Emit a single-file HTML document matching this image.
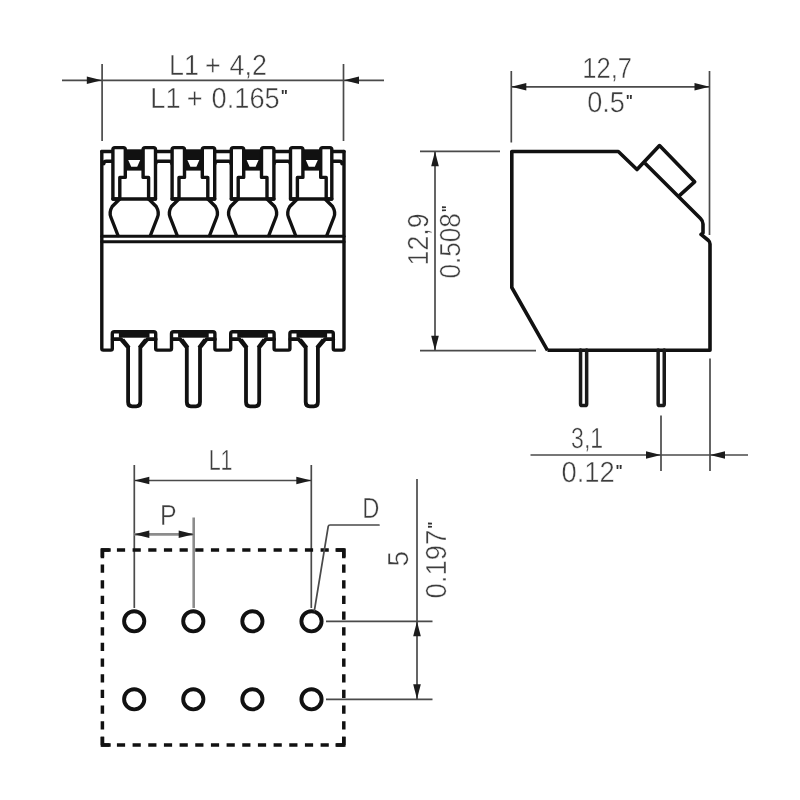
<!DOCTYPE html>
<html><head><meta charset="utf-8"><title>Drawing</title>
<style>
html,body{margin:0;padding:0;background:#fff;}
body{width:800px;height:800px;overflow:hidden;}
svg{display:block;will-change:transform;filter:grayscale(1) blur(0.5px);font-family:"Liberation Sans",sans-serif;}
text{text-rendering:geometricPrecision;}
</style></head>
<body>
<svg width="800" height="800" viewBox="0 0 800 800">
<rect width="800" height="800" fill="#fff"/>
<line x1="102.1" y1="64" x2="102.1" y2="141" stroke="#4a4a4a" stroke-width="1.7" />
<line x1="343.5" y1="64" x2="343.5" y2="141" stroke="#4a4a4a" stroke-width="1.7" />
<line x1="62" y1="80.3" x2="384" y2="80.3" stroke="#4a4a4a" stroke-width="1.7" />
<polygon points="101.8,80.3 86.8,76.5 86.8,84.1" fill="#1c1c1c"/>
<polygon points="344,80.3 359,76.5 359,84.1" fill="#1c1c1c"/>
<text transform="translate(169.09 75) scale(0.9258 1)" font-size="29" fill="#3d3d3d" stroke="#fff" stroke-width="0.45"><tspan dx="0 0 0 -1.5 0 1.5">L1 + 4,2</tspan></text>
<text transform="translate(150.25 108.2) scale(0.9385 1)" font-size="29" fill="#3d3d3d" stroke="#fff" stroke-width="0.45"><tspan dx="0 0 0 -1.5 0 1.5">L1 + 0.165<tspan font-size="16" font-weight="bold" stroke="none" fill="#333" dx="1" dy="-6.8">&quot;</tspan></tspan></text>
<path d="M101.8,151.5 L101.8,348.6 Q101.8,350.1 103.3,350.1 L110.8,350.1 Q112.3,350.1 112.3,348.6 L112.3,333.7 Q112.3,331.7 114.3,331.7 L153.7,331.7 Q155.7,331.7 155.7,333.7 L155.7,348.6 Q155.7,350.1 157.2,350.1 L170,350.1 Q171.5,350.1 171.5,348.6 L171.5,333.7 Q171.5,331.7 173.5,331.7 L212.9,331.7 Q214.9,331.7 214.9,333.7 L214.9,348.6 Q214.9,350.1 216.4,350.1 L229.2,350.1 Q230.7,350.1 230.7,348.6 L230.7,333.7 Q230.7,331.7 232.7,331.7 L272.1,331.7 Q274.1,331.7 274.1,333.7 L274.1,348.6 Q274.1,350.1 275.6,350.1 L288.4,350.1 Q289.9,350.1 289.9,348.6 L289.9,333.7 Q289.9,331.7 291.9,331.7 L331.3,331.7 Q333.3,331.7 333.3,333.7 L333.3,348.6 Q333.3,350.1 334.8,350.1 L342.5,350.1 Q344,350.1 344,348.6 L344,151.5" fill="none" stroke="#111" stroke-width="3.4" stroke-linejoin="round" stroke-linecap="round"/>
<path d="M101.8,151.5 L344,151.5" fill="none" stroke="#111" stroke-width="3.4" stroke-linejoin="round" stroke-linecap="round"/>
<path d="M101.8,236.2 L344,236.2" fill="none" stroke="#111" stroke-width="3.1" stroke-linejoin="round" stroke-linecap="round"/>
<path d="M101.8,241.8 L344,241.8" fill="none" stroke="#111" stroke-width="3.1" stroke-linejoin="round" stroke-linecap="round"/>
<path d="M103.8,163.8 Q103.8,161.3 106.3,161.3 L112.7,161.3" fill="none" stroke="#111" stroke-width="3.4" stroke-linejoin="round" stroke-linecap="round"/>
<path d="M155.7,163.8 Q155.7,161.3 158.2,161.3 L169.4,161.3 Q171.9,161.3 171.9,163.8" fill="none" stroke="#111" stroke-width="3.4" stroke-linejoin="round" stroke-linecap="round"/>
<path d="M214.9,163.8 Q214.9,161.3 217.4,161.3 L228.6,161.3 Q231.1,161.3 231.1,163.8" fill="none" stroke="#111" stroke-width="3.4" stroke-linejoin="round" stroke-linecap="round"/>
<path d="M274.1,163.8 Q274.1,161.3 276.6,161.3 L287.8,161.3 Q290.3,161.3 290.3,163.8" fill="none" stroke="#111" stroke-width="3.4" stroke-linejoin="round" stroke-linecap="round"/>
<path d="M331.8,161.3 L339.5,161.3 Q342,161.3 342,163.8" fill="none" stroke="#111" stroke-width="3.4" stroke-linejoin="round" stroke-linecap="round"/>
<rect x="124.2" y="149.4" width="20" height="21.2" fill="#111"/>
<polygon points="128.2,160 140.2,160 137.2,166.8 131.2,166.8" fill="#fff"/>
<path d="M112.9,199 L112.9,149.6 Q112.9,147.6 114.9,147.6 L123.3,147.6 Q125.3,147.6 125.3,149.6 L125.3,177.4 L119.8,177.4 L119.8,199 Z" fill="#fff" stroke="#111" stroke-width="3.4" stroke-linejoin="round" stroke-linecap="round"/>
<path d="M155.5,199 L155.5,149.6 Q155.5,147.6 153.5,147.6 L145.1,147.6 Q143.1,147.6 143.1,149.6 L143.1,177.4 L148.6,177.4 L148.6,199 Z" fill="#fff" stroke="#111" stroke-width="3.4" stroke-linejoin="round" stroke-linecap="round"/>
<path d="M112.9,199 L155.5,199" fill="none" stroke="#111" stroke-width="3.4" stroke-linejoin="round" stroke-linecap="round"/>
<path d="M119.2,199.5 L112.2,206.5 Q108.7,212.5 111,217.5 L118,235.5" fill="none" stroke="#111" stroke-width="3.4" stroke-linejoin="round" stroke-linecap="round"/>
<path d="M149.2,199.5 L156.2,206.5 Q159.7,212.5 157.4,217.5 L150.4,235.5" fill="none" stroke="#111" stroke-width="3.4" stroke-linejoin="round" stroke-linecap="round"/>
<rect x="118.9" y="330" width="30.6" height="7.7" fill="#111"/>
<path d="M122.6,339.6 L129,347.6" fill="none" stroke="#111" stroke-width="3.8" stroke-linecap="butt"/>
<path d="M145.8,339.6 L139.4,347.6" fill="none" stroke="#111" stroke-width="3.8" stroke-linecap="butt"/>
<path d="M112.7,339.2 L121,339.2 L128.1,347.5 L128.1,402 Q128.1,406.3 132.1,406.3 L136.3,406.3 Q140.3,406.3 140.3,402 L140.3,347.5 L147.4,339.2 L155.7,339.2" fill="none" stroke="#111" stroke-width="3.8" stroke-linejoin="round" stroke-linecap="round"/>
<rect x="183.4" y="149.4" width="20" height="21.2" fill="#111"/>
<polygon points="187.4,160 199.4,160 196.4,166.8 190.4,166.8" fill="#fff"/>
<path d="M172.1,199 L172.1,149.6 Q172.1,147.6 174.1,147.6 L182.5,147.6 Q184.5,147.6 184.5,149.6 L184.5,177.4 L179,177.4 L179,199 Z" fill="#fff" stroke="#111" stroke-width="3.4" stroke-linejoin="round" stroke-linecap="round"/>
<path d="M214.7,199 L214.7,149.6 Q214.7,147.6 212.7,147.6 L204.3,147.6 Q202.3,147.6 202.3,149.6 L202.3,177.4 L207.8,177.4 L207.8,199 Z" fill="#fff" stroke="#111" stroke-width="3.4" stroke-linejoin="round" stroke-linecap="round"/>
<path d="M172.1,199 L214.7,199" fill="none" stroke="#111" stroke-width="3.4" stroke-linejoin="round" stroke-linecap="round"/>
<path d="M178.4,199.5 L171.4,206.5 Q167.9,212.5 170.2,217.5 L177.2,235.5" fill="none" stroke="#111" stroke-width="3.4" stroke-linejoin="round" stroke-linecap="round"/>
<path d="M208.4,199.5 L215.4,206.5 Q218.9,212.5 216.6,217.5 L209.6,235.5" fill="none" stroke="#111" stroke-width="3.4" stroke-linejoin="round" stroke-linecap="round"/>
<rect x="178.1" y="330" width="30.6" height="7.7" fill="#111"/>
<path d="M181.8,339.6 L187.7,347.6" fill="none" stroke="#111" stroke-width="3.8" stroke-linecap="butt"/>
<path d="M205,339.6 L199.1,347.6" fill="none" stroke="#111" stroke-width="3.8" stroke-linecap="butt"/>
<path d="M171.9,339.2 L180.2,339.2 L186.8,347.5 L186.8,402 Q186.8,406.3 190.8,406.3 L196,406.3 Q200,406.3 200,402 L200,347.5 L206.6,339.2 L214.9,339.2" fill="none" stroke="#111" stroke-width="3.8" stroke-linejoin="round" stroke-linecap="round"/>
<rect x="242.6" y="149.4" width="20" height="21.2" fill="#111"/>
<polygon points="246.6,160 258.6,160 255.6,166.8 249.6,166.8" fill="#fff"/>
<path d="M231.3,199 L231.3,149.6 Q231.3,147.6 233.3,147.6 L241.7,147.6 Q243.7,147.6 243.7,149.6 L243.7,177.4 L238.2,177.4 L238.2,199 Z" fill="#fff" stroke="#111" stroke-width="3.4" stroke-linejoin="round" stroke-linecap="round"/>
<path d="M273.9,199 L273.9,149.6 Q273.9,147.6 271.9,147.6 L263.5,147.6 Q261.5,147.6 261.5,149.6 L261.5,177.4 L267,177.4 L267,199 Z" fill="#fff" stroke="#111" stroke-width="3.4" stroke-linejoin="round" stroke-linecap="round"/>
<path d="M231.3,199 L273.9,199" fill="none" stroke="#111" stroke-width="3.4" stroke-linejoin="round" stroke-linecap="round"/>
<path d="M237.6,199.5 L230.6,206.5 Q227.1,212.5 229.4,217.5 L236.4,235.5" fill="none" stroke="#111" stroke-width="3.4" stroke-linejoin="round" stroke-linecap="round"/>
<path d="M267.6,199.5 L274.6,206.5 Q278.1,212.5 275.8,217.5 L268.8,235.5" fill="none" stroke="#111" stroke-width="3.4" stroke-linejoin="round" stroke-linecap="round"/>
<rect x="237.3" y="330" width="30.6" height="7.7" fill="#111"/>
<path d="M241,339.6 L246.9,347.6" fill="none" stroke="#111" stroke-width="3.8" stroke-linecap="butt"/>
<path d="M264.2,339.6 L258.3,347.6" fill="none" stroke="#111" stroke-width="3.8" stroke-linecap="butt"/>
<path d="M231.1,339.2 L239.4,339.2 L246,347.5 L246,402 Q246,406.3 250,406.3 L255.2,406.3 Q259.2,406.3 259.2,402 L259.2,347.5 L265.8,339.2 L274.1,339.2" fill="none" stroke="#111" stroke-width="3.8" stroke-linejoin="round" stroke-linecap="round"/>
<rect x="301.8" y="149.4" width="20" height="21.2" fill="#111"/>
<polygon points="305.8,160 317.8,160 314.8,166.8 308.8,166.8" fill="#fff"/>
<path d="M290.5,199 L290.5,149.6 Q290.5,147.6 292.5,147.6 L300.9,147.6 Q302.9,147.6 302.9,149.6 L302.9,177.4 L297.4,177.4 L297.4,199 Z" fill="#fff" stroke="#111" stroke-width="3.4" stroke-linejoin="round" stroke-linecap="round"/>
<path d="M331.8,199 L331.8,149.6 Q331.8,147.6 329.8,147.6 L322.7,147.6 Q320.7,147.6 320.7,149.6 L320.7,177.4 L326.2,177.4 L326.2,199 Z" fill="#fff" stroke="#111" stroke-width="3.4" stroke-linejoin="round" stroke-linecap="round"/>
<path d="M290.5,199 L331.8,199" fill="none" stroke="#111" stroke-width="3.4" stroke-linejoin="round" stroke-linecap="round"/>
<path d="M296.8,199.5 L289.8,206.5 Q286.3,212.5 288.6,217.5 L295.6,235.5" fill="none" stroke="#111" stroke-width="3.4" stroke-linejoin="round" stroke-linecap="round"/>
<path d="M325.6,199.5 L332.6,206.5 Q336.1,212.5 333.8,217.5 L326.8,235.5" fill="none" stroke="#111" stroke-width="3.4" stroke-linejoin="round" stroke-linecap="round"/>
<rect x="296.5" y="330" width="30.6" height="7.7" fill="#111"/>
<path d="M300.2,339.6 L306.6,347.6" fill="none" stroke="#111" stroke-width="3.8" stroke-linecap="butt"/>
<path d="M323.4,339.6 L317,347.6" fill="none" stroke="#111" stroke-width="3.8" stroke-linecap="butt"/>
<path d="M290.3,339.2 L298.6,339.2 L305.7,347.5 L305.7,402 Q305.7,406.3 309.7,406.3 L313.9,406.3 Q317.9,406.3 317.9,402 L317.9,347.5 L325,339.2 L333.3,339.2" fill="none" stroke="#111" stroke-width="3.8" stroke-linejoin="round" stroke-linecap="round"/>
<line x1="511.3" y1="71" x2="511.3" y2="142.5" stroke="#4a4a4a" stroke-width="1.7" />
<line x1="709.5" y1="71" x2="709.5" y2="235" stroke="#4a4a4a" stroke-width="1.7" />
<line x1="511.3" y1="86.8" x2="709.5" y2="86.8" stroke="#4a4a4a" stroke-width="1.7" />
<polygon points="511.3,86.8 526.3,83 526.3,90.6" fill="#1c1c1c"/>
<polygon points="709.5,86.8 694.5,83 694.5,90.6" fill="#1c1c1c"/>
<text transform="translate(582.32 78.3) scale(0.8815 1)" font-size="29" fill="#3d3d3d" stroke="#fff" stroke-width="0.45">12,7</text>
<text transform="translate(587.13 112.4) scale(0.9355 1)" font-size="29" fill="#3d3d3d" stroke="#fff" stroke-width="0.45">0.5<tspan font-size="16" font-weight="bold" stroke="none" fill="#333" dx="1" dy="-6.8">&quot;</tspan></text>
<line x1="420" y1="151.3" x2="500" y2="151.3" stroke="#4a4a4a" stroke-width="1.7" />
<line x1="420" y1="350.7" x2="536" y2="350.7" stroke="#4a4a4a" stroke-width="1.7" />
<line x1="435" y1="151.3" x2="435" y2="350.7" stroke="#4a4a4a" stroke-width="1.7" />
<polygon points="435,151.3 431.2,166.3 438.8,166.3" fill="#1c1c1c"/>
<polygon points="435,350.7 431.2,335.7 438.8,335.7" fill="#1c1c1c"/>
<text transform="translate(427.5 265.47) rotate(-90) scale(0.9213 1)" font-size="29" fill="#3d3d3d" stroke="#fff" stroke-width="0.45">12,9</text>
<text transform="translate(459.5 278.53) rotate(-90) scale(0.9016 1)" font-size="29" fill="#3d3d3d" stroke="#fff" stroke-width="0.45">0.508<tspan font-size="16" font-weight="bold" stroke="none" fill="#333" dx="1" dy="-6.8">&quot;</tspan></text>
<path d="M547.5,350.3 L511.8,287.5 L511.8,151.5 L618.3,151.5 L637,169.5 L659.5,145.6 L694.6,181.8 L678.3,196.6" fill="none" stroke="#111" stroke-width="3.6" stroke-linejoin="round" stroke-linecap="butt"/>
<path d="M645,163.3 L700.5,218.5 Q703,221 703,224 L703,233 L701,234.4 L708.5,240.5 Q710,241.8 710,244 L710,350.3 L547.5,350.3" fill="none" stroke="#111" stroke-width="3.6" stroke-linejoin="round" stroke-linecap="butt"/>
<path d="M580.55,350 L580.55,404 Q580.55,405.6 582.1,405.6 L585.1,405.6 Q586.65,405.6 586.65,404 L586.65,350" fill="none" stroke="#1a1a1a" stroke-width="3.5" stroke-linejoin="round" stroke-linecap="round"/>
<path d="M658.15,350 L658.15,404 Q658.15,405.6 659.7,405.6 L662.7,405.6 Q664.25,405.6 664.25,404 L664.25,350" fill="none" stroke="#1a1a1a" stroke-width="3.5" stroke-linejoin="round" stroke-linecap="round"/>
<line x1="661" y1="415.5" x2="661" y2="471" stroke="#4a4a4a" stroke-width="1.7" />
<line x1="710" y1="358.5" x2="710" y2="471" stroke="#4a4a4a" stroke-width="1.7" />
<line x1="530.5" y1="455" x2="748" y2="455" stroke="#4a4a4a" stroke-width="1.7" />
<polygon points="661,455 646,451.2 646,458.8" fill="#1c1c1c"/>
<polygon points="710,455 725,451.2 725,458.8" fill="#1c1c1c"/>
<text transform="translate(571.11 447.5) scale(0.7947 1)" font-size="29" fill="#3d3d3d" stroke="#fff" stroke-width="0.45">3,1</text>
<text transform="translate(561.42 482.4) scale(0.9434 1)" font-size="29" fill="#3d3d3d" stroke="#fff" stroke-width="0.45">0.12<tspan font-size="16" font-weight="bold" stroke="none" fill="#333" dx="1" dy="-6.8">&quot;</tspan></text>
<line x1="134.3" y1="465" x2="134.3" y2="608" stroke="#4a4a4a" stroke-width="1.7" />
<line x1="311.3" y1="465" x2="311.3" y2="608" stroke="#4a4a4a" stroke-width="1.7" />
<line x1="134.3" y1="480.5" x2="311.3" y2="480.5" stroke="#4a4a4a" stroke-width="1.7" />
<polygon points="134.3,480.5 149.3,476.7 149.3,484.3" fill="#1c1c1c"/>
<polygon points="311.3,480.5 296.3,476.7 296.3,484.3" fill="#1c1c1c"/>
<text transform="translate(208.65 469.5) scale(0.7398 1)" font-size="29" fill="#3d3d3d" stroke="#fff" stroke-width="0.45">L1</text>
<line x1="193.7" y1="517.5" x2="193.7" y2="608" stroke="#8c8c8c" stroke-width="2.6" />
<line x1="134.3" y1="534.3" x2="193.7" y2="534.3" stroke="#8c8c8c" stroke-width="2.8" />
<polygon points="134.3,534.3 149.3,530.5 149.3,538.1" fill="#1c1c1c"/>
<polygon points="193.7,534.3 178.7,530.5 178.7,538.1" fill="#1c1c1c"/>
<text transform="translate(160.05 524.7) scale(0.8590 1)" font-size="29" fill="#3d3d3d" stroke="#fff" stroke-width="0.45">P</text>
<line x1="100.65" y1="550" x2="345.55" y2="550" stroke="#111" stroke-width="3.5" stroke-dasharray="8.2 7.467" stroke-dashoffset="-0.6"/>
<line x1="100.65" y1="745" x2="345.55" y2="745" stroke="#111" stroke-width="3.5" stroke-dasharray="8.2 7.467" stroke-dashoffset="-0.6"/>
<line x1="102.4" y1="548.25" x2="102.4" y2="746.75" stroke="#111" stroke-width="3.5" stroke-dasharray="8.2 7.467" stroke-dashoffset="-0.6"/>
<line x1="343.8" y1="548.25" x2="343.8" y2="746.75" stroke="#111" stroke-width="3.5" stroke-dasharray="8.2 7.467" stroke-dashoffset="-0.6"/>
<path d="M110.7,550 L102.4,550 L102.4,558.3" fill="none" stroke="#111" stroke-width="3.5" stroke-linejoin="miter" stroke-linecap="butt"/>
<path d="M335.5,550 L343.8,550 L343.8,558.3" fill="none" stroke="#111" stroke-width="3.5" stroke-linejoin="miter" stroke-linecap="butt"/>
<path d="M110.7,745 L102.4,745 L102.4,736.7" fill="none" stroke="#111" stroke-width="3.5" stroke-linejoin="miter" stroke-linecap="butt"/>
<path d="M335.5,745 L343.8,745 L343.8,736.7" fill="none" stroke="#111" stroke-width="3.5" stroke-linejoin="miter" stroke-linecap="butt"/>
<circle cx="134.2" cy="621.3" r="10.1" fill="#fff" stroke="#111" stroke-width="3.9"/>
<circle cx="193.3" cy="621.3" r="10.1" fill="#fff" stroke="#111" stroke-width="3.9"/>
<circle cx="252.4" cy="621.3" r="10.1" fill="#fff" stroke="#111" stroke-width="3.9"/>
<circle cx="311.5" cy="621.3" r="10.1" fill="#fff" stroke="#111" stroke-width="3.9"/>
<circle cx="134.2" cy="699.3" r="10.1" fill="#fff" stroke="#111" stroke-width="3.9"/>
<circle cx="193.3" cy="699.3" r="10.1" fill="#fff" stroke="#111" stroke-width="3.9"/>
<circle cx="252.4" cy="699.3" r="10.1" fill="#fff" stroke="#111" stroke-width="3.9"/>
<circle cx="311.5" cy="699.3" r="10.1" fill="#fff" stroke="#111" stroke-width="3.9"/>
<path d="M314.4,610.5 L328.2,526.5 Q328.5,525 330,525 L379,525" fill="none" stroke="#4a4a4a" stroke-width="1.7" stroke-linejoin="round" stroke-linecap="round"/>
<text transform="translate(362.16 517.5) scale(0.8176 1)" font-size="29" fill="#3d3d3d" stroke="#fff" stroke-width="0.45">D</text>
<line x1="326" y1="621.3" x2="432.5" y2="621.3" stroke="#4a4a4a" stroke-width="1.7" />
<line x1="326" y1="699.3" x2="432.5" y2="699.3" stroke="#4a4a4a" stroke-width="1.7" />
<line x1="417" y1="479" x2="417" y2="699.3" stroke="#4a4a4a" stroke-width="1.7" />
<polygon points="417,621.3 413.2,636.3 420.8,636.3" fill="#1c1c1c"/>
<polygon points="417,699.3 413.2,684.3 420.8,684.3" fill="#1c1c1c"/>
<text transform="translate(408 566.61) rotate(-90) scale(0.9673 1)" font-size="29" fill="#3d3d3d" stroke="#fff" stroke-width="0.45">5</text>
<text transform="translate(445.5 598.48) rotate(-90) scale(0.9473 1)" font-size="29" fill="#3d3d3d" stroke="#fff" stroke-width="0.45">0.197<tspan font-size="16" font-weight="bold" stroke="none" fill="#333" dx="1" dy="-6.8">&quot;</tspan></text>
</svg>
</body></html>
